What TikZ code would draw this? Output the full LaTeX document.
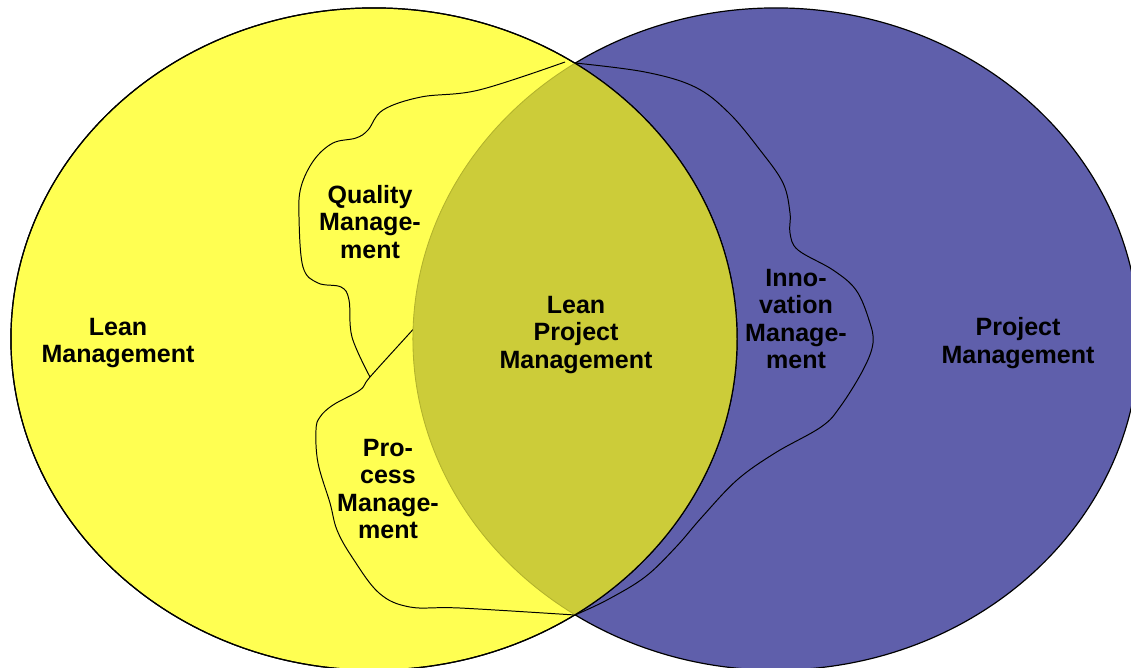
\documentclass[tikz,border=0pt]{standalone}
\usepackage{fontspec}
\setmainfont{Liberation Sans}
\definecolor{leanyellow}{HTML}{FFFF52}
\definecolor{projblue}{HTML}{5F5FAB}
\definecolor{overlap}{HTML}{CCCC39}
\definecolor{overlapedge}{HTML}{B2B22C}
\usepackage{tikz}

\begin{document}
\begin{tikzpicture}[
  x=0.025cm,y=-0.025cm,
  set/.style={draw=black,line width=0.85pt},
  border/.style={black,line width=0.7pt},
  lbl/.style={font=\fontsize{17.8}{19.4}\selectfont\bfseries,align=center,text=black}
]
  \useasboundingbox (0,0) rectangle (1131,667);
  \clip (0,0) rectangle (1131,667);
  % the two sets
  \draw[set,fill=projblue] (776,339) ellipse [x radius=9.075cm,y radius=8.275cm];
  \draw[set,fill=leanyellow] (374,339) ellipse [x radius=9.075cm,y radius=8.275cm];
  \coordinate (top) at (575,63);
  \coordinate (bot) at (575,615);
  % fields around the overlap
  \draw[border] plot[smooth,tension=0.6] coordinates {(565,62) (479,90) (421,97) (383,110) (368,130) (356,138) (333,143) (314,160) (301,187) (299,217) (303,267) (318,283) (341,287) (349,300) (352,337) (370,377)};
  \draw[border] plot[smooth,tension=0.6] coordinates {(440,300) (408,335) (370,377) (360,390) (333,405) (320,417) (316,430) (318,463) (330,503) (337,530) (352,557) (379,593) (410,607) (460,608) (bot)};
  \draw[border] plot[smooth,tension=0.6] coordinates {(top) (645,72) (695,87) (729,113) (760,150) (783,183) (790,213) (790,233) (798,250) (833,270) (856,290) (869,320) (873,343) (863,370) (840,407) (821,427) (775,453) (737,480) (702,517) (676,547) (645,577) (607,600) (bot)};
  % the overlap
  \begin{scope}
    \clip (374,339) ellipse [x radius=9.075cm,y radius=8.275cm];
    \fill[overlap] (776,339) ellipse [x radius=9.075cm,y radius=8.275cm];
    \draw[overlapedge,line width=0.6pt] (776,339) ellipse [x radius=9.075cm,y radius=8.275cm];
  \end{scope}
  \draw[set] (374,339) ellipse [x radius=9.075cm,y radius=8.275cm];
  % labels
  \node[lbl] (lean) at (118,343) {Lean\\Management};
  \node[lbl] (quality) at (370,222) {Quality\\Manage-\\ment};
  \node[lbl] (process) at (388,489) {Pro-\\cess\\Manage-\\ment};
  \node[lbl] (leanpm) at (576,335) {Lean\\Project\\Management};
  \node[lbl] (innov) at (796,319) {Inno-\\vation\\Manage-\\ment};
  \node[lbl] (project) at (1018,343) {Project\\Management};
\end{tikzpicture}
\end{document}
